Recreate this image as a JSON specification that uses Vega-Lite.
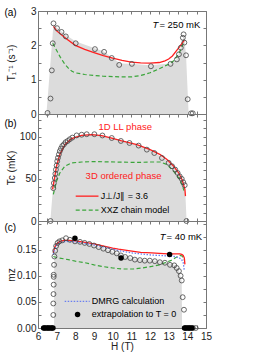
{
"$schema": "https://vega.github.io/schema/vega-lite/v6.json",
"padding": {"left": 3, "top": 5, "right": 5, "bottom": 3},
"spacing": 0,
"bounds": "flush",
"config": {
  "font": "Liberation Sans Narrow, Arial Narrow, Liberation Sans, sans-serif",
  "view": {"stroke": "#777", "strokeWidth": 1},
  "axis": {"grid": false, "domain": false, "tickColor": "#777", "tickSize": -3, "tickWidth": 1,
           "labelFontSize": 10, "labelColor": "#222", "labelFlush": false, "labelOverlap": false, "labelPadding": 3,
           "titleFontSize": 10, "titleFontWeight": "normal", "titleColor": "#222"},
  "axisY": {"labelPadding": 5},
  "text": {"fontSize": 9}
},
"datasets": {
  "one": [{}],
  "ac": [{"x":6.51,"y":0.03},{"x":6.67,"y":0.45},{"x":6.74,"y":1.27},{"x":6.79,"y":2.06},{"x":6.83,"y":2.64},{"x":7.02,"y":2.5},{"x":7.26,"y":2.39},{"x":7.49,"y":2.26},{"x":8.02,"y":2.06},{"x":9.05,"y":1.89},{"x":9.54,"y":1.81},{"x":9.95,"y":1.63},{"x":10.35,"y":1.43},{"x":11.03,"y":1.46},{"x":12.05,"y":1.39},{"x":13.1,"y":1.46},{"x":13.44,"y":1.59},{"x":13.55,"y":1.74},{"x":13.65,"y":1.93},{"x":13.76,"y":2.22},{"x":13.8,"y":2.32},{"x":13.84,"y":2.08},{"x":13.93,"y":1.71},{"x":14.02,"y":0.43},{"x":14.2,"y":0.02},{"x":14.29,"y":0.02}],
  "ag": [{"x":6.45,"y":0},{"x":6.83,"y":2.62},{"x":7.0,"y":2.52},{"x":7.5,"y":2.3},{"x":8.0,"y":2.12},{"x":9.0,"y":1.92},{"x":9.5,"y":1.83},{"x":10.0,"y":1.63},{"x":10.4,"y":1.47},{"x":11.0,"y":1.46},{"x":12.0,"y":1.42},{"x":13.1,"y":1.47},{"x":13.45,"y":1.6},{"x":13.65,"y":1.95},{"x":13.82,"y":2.28},{"x":13.93,"y":1.72},{"x":14.07,"y":0}],
  "ar": [{"x":6.83,"y":2.55},{"x":7.0,"y":2.42},{"x":7.5,"y":2.2},{"x":8.0,"y":2.0},{"x":8.5,"y":1.88},{"x":9.0,"y":1.79},{"x":9.5,"y":1.7},{"x":10.0,"y":1.63},{"x":10.5,"y":1.56},{"x":11.0,"y":1.51},{"x":11.5,"y":1.49},{"x":12.0,"y":1.48},{"x":12.5,"y":1.5},{"x":12.8,"y":1.55},{"x":13.0,"y":1.6},{"x":13.2,"y":1.69},{"x":13.4,"y":1.83},{"x":13.6,"y":1.97},{"x":13.84,"y":2.15}],
  "agr": [{"x":6.79,"y":2.06},{"x":7.0,"y":1.85},{"x":7.2,"y":1.65},{"x":7.4,"y":1.48},{"x":7.6,"y":1.35},{"x":7.8,"y":1.25},{"x":8.0,"y":1.2},{"x":8.5,"y":1.15},{"x":9.0,"y":1.12},{"x":9.5,"y":1.1},{"x":10.0,"y":1.09},{"x":10.5,"y":1.08},{"x":11.0,"y":1.08},{"x":11.5,"y":1.12},{"x":12.0,"y":1.2},{"x":12.5,"y":1.32},{"x":13.0,"y":1.45},{"x":13.3,"y":1.56},{"x":13.6,"y":1.82},{"x":13.84,"y":2.13}],
  "bc": [{"x":6.67,"y":0},{"x":6.82,"y":39},{"x":6.85,"y":45},{"x":6.9,"y":51},{"x":6.93,"y":56},{"x":6.96,"y":61},{"x":7.0,"y":66},{"x":7.03,"y":71},{"x":7.07,"y":75},{"x":7.12,"y":79},{"x":7.17,"y":83},{"x":7.23,"y":86},{"x":7.3,"y":89},{"x":7.39,"y":91},{"x":7.48,"y":93.5},{"x":7.59,"y":95},{"x":7.7,"y":97},{"x":7.84,"y":99},{"x":8.07,"y":101.6},{"x":8.34,"y":102.4},{"x":8.61,"y":103},{"x":9.02,"y":103},{"x":9.45,"y":101.5},{"x":9.95,"y":98.5},{"x":10.44,"y":95},{"x":10.9,"y":92.6},{"x":11.39,"y":89.5},{"x":11.83,"y":84.7},{"x":12.23,"y":80.7},{"x":12.64,"y":74.8},{"x":13.0,"y":69},{"x":13.18,"y":65},{"x":13.35,"y":61},{"x":13.48,"y":57},{"x":13.59,"y":53},{"x":13.7,"y":50},{"x":13.78,"y":46},{"x":13.86,"y":42.5},{"x":13.95,"y":0}],
  "bg": [{"x":6.66,"y":0},{"x":6.8,"y":38},{"x":6.9,"y":51},{"x":7.03,"y":71},{"x":7.23,"y":86},{"x":7.59,"y":95},{"x":8.07,"y":101.6},{"x":8.61,"y":103},{"x":9.02,"y":103},{"x":9.45,"y":101.5},{"x":9.95,"y":98.5},{"x":10.45,"y":95.5},{"x":11.39,"y":90},{"x":12.23,"y":81.5},{"x":12.64,"y":75.5},{"x":13.0,"y":70},{"x":13.27,"y":65},{"x":13.54,"y":57},{"x":13.72,"y":49},{"x":13.87,"y":38},{"x":13.9,"y":30},{"x":13.96,"y":0}],
  "br": [{"x":6.78,"y":37.5},{"x":6.87,"y":49},{"x":6.99,"y":65},{"x":7.17,"y":79},{"x":7.44,"y":90.6},{"x":7.8,"y":97.8},{"x":8.34,"y":101.6},{"x":8.88,"y":102.6},{"x":9.41,"y":101.3},{"x":9.95,"y":98.5},{"x":10.44,"y":95.4},{"x":11.3,"y":90.6},{"x":12.01,"y":84.7},{"x":12.55,"y":78.8},{"x":12.91,"y":73},{"x":13.27,"y":65},{"x":13.54,"y":57},{"x":13.72,"y":49},{"x":13.87,"y":37.5},{"x":13.9,"y":29.5}],
  "bgr": [{"x":6.82,"y":31.5},{"x":6.99,"y":47},{"x":7.17,"y":57},{"x":7.44,"y":65},{"x":7.8,"y":69},{"x":8.34,"y":70},{"x":9.0,"y":70.5},{"x":10.13,"y":70},{"x":11.3,"y":69.5},{"x":12.01,"y":70},{"x":12.55,"y":70},{"x":12.91,"y":67},{"x":13.27,"y":59},{"x":13.54,"y":51},{"x":13.72,"y":43},{"x":13.82,"y":36}],
  "cc": [{"x":6.82,"y":0.025},{"x":6.82,"y":0.047},{"x":6.83,"y":0.065},{"x":6.84,"y":0.083},{"x":6.84,"y":0.098},{"x":6.84,"y":0.102},{"x":6.86,"y":0.121},{"x":6.88,"y":0.137},{"x":6.92,"y":0.148},{"x":6.97,"y":0.157},{"x":7.05,"y":0.163},{"x":7.15,"y":0.166},{"x":7.3,"y":0.168},{"x":7.5,"y":0.172},{"x":7.71,"y":0.169},{"x":7.98,"y":0.166},{"x":8.25,"y":0.165},{"x":8.5,"y":0.163},{"x":8.75,"y":0.161},{"x":9.0,"y":0.158},{"x":9.25,"y":0.155},{"x":9.5,"y":0.152},{"x":9.75,"y":0.149},{"x":9.98,"y":0.146},{"x":10.22,"y":0.143},{"x":10.44,"y":0.139},{"x":10.67,"y":0.136},{"x":10.94,"y":0.134},{"x":11.19,"y":0.131},{"x":11.46,"y":0.13},{"x":11.72,"y":0.129},{"x":11.99,"y":0.129},{"x":12.26,"y":0.128},{"x":12.53,"y":0.126},{"x":12.8,"y":0.125},{"x":13.07,"y":0.121},{"x":13.3,"y":0.12},{"x":13.43,"y":0.115},{"x":13.55,"y":0.109},{"x":13.64,"y":0.1},{"x":13.7,"y":0.091},{"x":13.75,"y":0.059},{"x":13.82,"y":0.035},{"x":6.35,"y":0},{"x":6.55,"y":0},{"x":6.75,"y":0},{"x":13.9,"y":0},{"x":14.1,"y":0},{"x":14.3,"y":0},{"x":14.45,"y":0}],
  "cb": [{"x":7.98,"y":0.172},{"x":10.45,"y":0.134},{"x":13.05,"y":0.141},{"x":6.3,"y":0},{"x":6.4,"y":0},{"x":6.5,"y":0},{"x":6.6,"y":0},{"x":6.7,"y":0},{"x":6.8,"y":0},{"x":13.85,"y":0},{"x":13.95,"y":0},{"x":14.05,"y":0},{"x":14.15,"y":0},{"x":14.25,"y":0}],
  "cg": [{"x":6.86,"y":0},{"x":6.87,"y":0.14},{"x":6.93,"y":0.149},{"x":7.03,"y":0.158},{"x":7.17,"y":0.164},{"x":7.5,"y":0.171},{"x":8.0,"y":0.167},{"x":8.6,"y":0.163},{"x":9.4,"y":0.154},{"x":10.2,"y":0.144},{"x":10.9,"y":0.135},{"x":11.5,"y":0.131},{"x":12.3,"y":0.129},{"x":12.8,"y":0.126},{"x":13.3,"y":0.121},{"x":13.55,"y":0.11},{"x":13.7,"y":0.09},{"x":13.72,"y":0}],
  "cr": [{"x":6.82,"y":0.144},{"x":6.9,"y":0.155},{"x":7.0,"y":0.161},{"x":7.17,"y":0.166},{"x":7.4,"y":0.168},{"x":7.62,"y":0.168},{"x":8.0,"y":0.167},{"x":8.52,"y":0.164},{"x":9.0,"y":0.161},{"x":9.41,"y":0.158},{"x":10.0,"y":0.153},{"x":10.31,"y":0.151},{"x":11.12,"y":0.147},{"x":11.5,"y":0.145},{"x":12.09,"y":0.144},{"x":12.5,"y":0.143},{"x":12.98,"y":0.142},{"x":13.34,"y":0.142},{"x":13.6,"y":0.142},{"x":13.7,"y":0.141},{"x":13.78,"y":0.139},{"x":13.84,"y":0.134},{"x":13.87,"y":0.122}],
  "cd": [{"x":6.82,"y":0.141},{"x":6.9,"y":0.152},{"x":7.0,"y":0.159},{"x":7.2,"y":0.164},{"x":7.5,"y":0.166},{"x":8.0,"y":0.165},{"x":8.5,"y":0.162},{"x":9.0,"y":0.159},{"x":9.5,"y":0.155},{"x":10.0,"y":0.151},{"x":10.5,"y":0.147},{"x":11.0,"y":0.144},{"x":11.5,"y":0.142},{"x":12.0,"y":0.14},{"x":12.5,"y":0.139},{"x":13.0,"y":0.138},{"x":13.3,"y":0.137},{"x":13.55,"y":0.135},{"x":13.7,"y":0.131},{"x":13.78,"y":0.125},{"x":13.83,"y":0.112}],
  "cgr": [{"x":6.82,"y":0.137},{"x":7.0,"y":0.135},{"x":7.62,"y":0.131},{"x":8.0,"y":0.128},{"x":8.52,"y":0.125},{"x":9.0,"y":0.121},{"x":9.41,"y":0.118},{"x":10.0,"y":0.115},{"x":10.5,"y":0.113},{"x":11.12,"y":0.113},{"x":11.6,"y":0.115},{"x":12.09,"y":0.118},{"x":12.5,"y":0.121},{"x":12.8,"y":0.125},{"x":13.1,"y":0.129},{"x":13.34,"y":0.134},{"x":13.61,"y":0.139},{"x":13.72,"y":0.138},{"x":13.8,"y":0.13}]
},
"vconcat": [
{
  "width": 168, "height": 103,
  "resolve": {"axis": {"x": "independent", "y": "independent"}},
  "layer": [
    {"data": {"name": "ag"}, "mark": {"type": "area", "color": "#dcdcdc", "opacity": 1},
     "encoding": {
       "x": {"field": "x", "type": "quantitative", "scale": {"domain": [6, 15], "nice": false, "zero": false},
             "axis": {"orient": "bottom", "values": [6,6.5,7,7.5,8,8.5,9,9.5,10,10.5,11,11.5,12,12.5,13,13.5,14,14.5,15], "labels": false, "title": null}},
       "y": {"field": "y", "type": "quantitative", "scale": {"domain": [0, 3], "nice": false},
             "axis": {"orient": "left", "values": [0,0.5,1,1.5,2,2.5,3], "labelExpr": "datum.value % 1 == 0 ? format(datum.value, 'd') : ''",
                      "title": "T₁⁻¹ (s⁻¹)", "titleX": -27, "titleBaseline": "middle", "titleAngle": 270}}}},
    {"data": {"name": "agr"}, "mark": {"type": "line", "color": "#3aa53a", "strokeWidth": 1.2, "strokeDash": [4, 2.5]},
     "encoding": {"x": {"field": "x", "type": "quantitative", "axis": null}, "y": {"field": "y", "type": "quantitative", "axis": null}}},
    {"data": {"name": "ar"}, "mark": {"type": "line", "color": "#ff2020", "strokeWidth": 1.3},
     "encoding": {
       "x": {"field": "x", "type": "quantitative", "axis": {"orient": "top", "values": [6,6.5,7,7.5,8,8.5,9,9.5,10,10.5,11,11.5,12,12.5,13,13.5,14,14.5,15], "labels": false, "title": null}},
       "y": {"field": "y", "type": "quantitative", "axis": {"orient": "right", "values": [0,0.5,1,1.5,2,2.5,3], "labels": false, "title": null}}}},
    {"data": {"name": "ac"}, "mark": {"type": "point", "shape": "circle", "filled": false, "stroke": "#444", "strokeWidth": 0.8, "size": 24, "opacity": 1},
     "encoding": {"x": {"field": "x", "type": "quantitative", "axis": null}, "y": {"field": "y", "type": "quantitative", "axis": null}}},
    {"data": {"name": "one"}, "mark": {"type": "text", "align": "left", "baseline": "middle", "fontSize": 10, "font": "Liberation Sans"},
     "encoding": {"x": {"datum": 4.2, "type": "quantitative", "axis": null}, "y": {"datum": 2.94, "type": "quantitative", "axis": null}, "text": {"value": "(a)"}}},
    {"data": {"name": "one"}, "mark": {"type": "text", "align": "right", "baseline": "middle", "fontStyle": "italic", "fontSize": 9.5},
     "encoding": {"x": {"datum": 12.45, "type": "quantitative", "axis": null}, "y": {"datum": 2.6, "type": "quantitative", "axis": null}, "text": {"value": "T"}}},
    {"data": {"name": "one"}, "mark": {"type": "text", "align": "left", "baseline": "middle", "fontSize": 9.5, "dx": 1},
     "encoding": {"x": {"datum": 12.45, "type": "quantitative", "axis": null}, "y": {"datum": 2.6, "type": "quantitative", "axis": null}, "text": {"value": "= 250 mK"}}}
  ]
},
{
  "width": 168, "height": 107,
  "resolve": {"axis": {"x": "independent", "y": "independent"}},
  "layer": [
    {"data": {"name": "bg"}, "mark": {"type": "area", "color": "#dcdcdc", "opacity": 1},
     "encoding": {
       "x": {"field": "x", "type": "quantitative", "scale": {"domain": [6, 15], "nice": false, "zero": false},
             "axis": {"orient": "bottom", "values": [6,6.5,7,7.5,8,8.5,9,9.5,10,10.5,11,11.5,12,12.5,13,13.5,14,14.5,15], "labels": false, "title": null}},
       "y": {"field": "y", "type": "quantitative", "scale": {"domain": [0, 127], "nice": false},
             "axis": {"orient": "left", "values": [0,10,20,30,40,50,60,70,80,90,100,110,120], "labelExpr": "datum.value % 50 == 0 ? format(datum.value, 'd') : ''",
                      "title": "Tc (mK)", "titleX": -27, "titleBaseline": "middle", "titleAngle": 270}}}},
    {"data": {"name": "bgr"}, "mark": {"type": "line", "color": "#3aa53a", "strokeWidth": 1.2, "strokeDash": [4, 2.5]},
     "encoding": {"x": {"field": "x", "type": "quantitative", "axis": null}, "y": {"field": "y", "type": "quantitative", "axis": null}}},
    {"data": {"name": "br"}, "mark": {"type": "line", "color": "#ff2020", "strokeWidth": 1.3},
     "encoding": {
       "x": {"field": "x", "type": "quantitative", "axis": {"orient": "top", "values": [6,6.5,7,7.5,8,8.5,9,9.5,10,10.5,11,11.5,12,12.5,13,13.5,14,14.5,15], "labels": false, "title": null}},
       "y": {"field": "y", "type": "quantitative", "axis": {"orient": "right", "values": [0,10,20,30,40,50,60,70,80,90,100,110,120], "labels": false, "title": null}}}},
    {"data": {"name": "bc"}, "mark": {"type": "point", "shape": "circle", "filled": false, "stroke": "#444", "strokeWidth": 0.8, "size": 24, "opacity": 1},
     "encoding": {"x": {"field": "x", "type": "quantitative", "axis": null}, "y": {"field": "y", "type": "quantitative", "axis": null}}},
    {"data": {"name": "one"}, "mark": {"type": "text", "align": "left", "baseline": "middle", "fontSize": 10, "font": "Liberation Sans"},
     "encoding": {"x": {"datum": 4.2, "type": "quantitative", "axis": null}, "y": {"datum": 114.7, "type": "quantitative", "axis": null}, "text": {"value": "(b)"}}},
    {"data": {"name": "one"}, "mark": {"type": "text", "align": "left", "baseline": "middle", "fontSize": 9.5, "color": "#ff2020"},
     "encoding": {"x": {"datum": 9.24, "type": "quantitative", "axis": null}, "y": {"datum": 112, "type": "quantitative", "axis": null}, "text": {"value": "1D LL phase"}}},
    {"data": {"name": "one"}, "mark": {"type": "text", "align": "left", "baseline": "middle", "fontSize": 9.5, "color": "#ff2020"},
     "encoding": {"x": {"datum": 8.55, "type": "quantitative", "axis": null}, "y": {"datum": 53, "type": "quantitative", "axis": null}, "text": {"value": "3D ordered phase"}}},
    {"data": {"name": "one"}, "mark": {"type": "rule", "color": "#ff2020", "strokeWidth": 1.3},
     "encoding": {"x": {"datum": 8.02, "type": "quantitative", "axis": null}, "x2": {"datum": 9.24}, "y": {"datum": 29.5, "type": "quantitative", "axis": null}}},
    {"data": {"name": "one"}, "mark": {"type": "rule", "color": "#3aa53a", "strokeWidth": 1.2, "strokeDash": [4, 2.5]},
     "encoding": {"x": {"datum": 8.02, "type": "quantitative", "axis": null}, "x2": {"datum": 9.24}, "y": {"datum": 13, "type": "quantitative", "axis": null}}},
    {"data": {"name": "one"}, "mark": {"type": "text", "align": "left", "baseline": "middle", "fontSize": 9},
     "encoding": {"x": {"datum": 9.36, "type": "quantitative", "axis": null}, "y": {"datum": 29.5, "type": "quantitative", "axis": null}, "text": {"value": "J⊥/J∥ = 3.6"}}},
    {"data": {"name": "one"}, "mark": {"type": "text", "align": "left", "baseline": "middle", "fontSize": 9},
     "encoding": {"x": {"datum": 9.36, "type": "quantitative", "axis": null}, "y": {"datum": 13, "type": "quantitative", "axis": null}, "text": {"value": "XXZ chain model"}}}
  ]
},
{
  "width": 168, "height": 107,
  "resolve": {"axis": {"x": "independent", "y": "independent"}},
  "layer": [
    {"data": {"name": "cg"}, "mark": {"type": "area", "color": "#dcdcdc", "opacity": 1},
     "encoding": {
       "x": {"field": "x", "type": "quantitative", "scale": {"domain": [6, 15], "nice": false, "zero": false},
             "axis": {"orient": "bottom", "values": [6,6.5,7,7.5,8,8.5,9,9.5,10,10.5,11,11.5,12,12.5,13,13.5,14,14.5,15], "labelExpr": "datum.value % 1 == 0 ? format(datum.value, 'd') : ''",
                      "labelPadding": 6, "title": "H (T)", "titlePadding": 0}},
       "y": {"field": "y", "type": "quantitative", "scale": {"domain": [0, 0.205], "nice": false},
             "axis": {"orient": "left", "values": [0,0.025,0.05,0.075,0.1,0.125,0.15,0.175,0.2],
                      "labelExpr": "(datum.value < 0.19 && abs(datum.value*20 - round(datum.value*20)) < 0.001) ? format(datum.value, '.2f') : ''",
                      "title": "mz", "titleX": -27, "titleBaseline": "middle", "titleAngle": 270}}}},
    {"data": {"name": "cgr"}, "mark": {"type": "line", "color": "#3aa53a", "strokeWidth": 1.2, "strokeDash": [4, 2.5]},
     "encoding": {"x": {"field": "x", "type": "quantitative", "axis": null}, "y": {"field": "y", "type": "quantitative", "axis": null}}},
    {"data": {"name": "cr"}, "mark": {"type": "line", "color": "#ff2020", "strokeWidth": 1.3},
     "encoding": {
       "x": {"field": "x", "type": "quantitative", "axis": {"orient": "top", "values": [6,6.5,7,7.5,8,8.5,9,9.5,10,10.5,11,11.5,12,12.5,13,13.5,14,14.5,15], "labels": false, "title": null}},
       "y": {"field": "y", "type": "quantitative", "axis": {"orient": "right", "values": [0,0.025,0.05,0.075,0.1,0.125,0.15,0.175,0.2], "labels": false, "title": null}}}},
    {"data": {"name": "cd"}, "mark": {"type": "line", "color": "#6a7ff0", "strokeWidth": 1.3, "strokeDash": [1.5, 1.5]},
     "encoding": {"x": {"field": "x", "type": "quantitative", "axis": null}, "y": {"field": "y", "type": "quantitative", "axis": null}}},
    {"data": {"name": "cc"}, "mark": {"type": "point", "shape": "circle", "filled": false, "stroke": "#444", "strokeWidth": 0.8, "size": 24, "opacity": 1},
     "encoding": {"x": {"field": "x", "type": "quantitative", "axis": null}, "y": {"field": "y", "type": "quantitative", "axis": null}}},
    {"data": {"name": "cb"}, "mark": {"type": "circle", "color": "#000", "size": 30, "opacity": 1},
     "encoding": {"x": {"field": "x", "type": "quantitative", "axis": null}, "y": {"field": "y", "type": "quantitative", "axis": null}}},
    {"data": {"name": "one"}, "mark": {"type": "text", "align": "left", "baseline": "middle", "fontSize": 10, "font": "Liberation Sans"},
     "encoding": {"x": {"datum": 4.2, "type": "quantitative", "axis": null}, "y": {"datum": 0.191, "type": "quantitative", "axis": null}, "text": {"value": "(c)"}}},
    {"data": {"name": "one"}, "mark": {"type": "text", "align": "right", "baseline": "middle", "fontStyle": "italic", "fontSize": 9.5},
     "encoding": {"x": {"datum": 12.83, "type": "quantitative", "axis": null}, "y": {"datum": 0.174, "type": "quantitative", "axis": null}, "text": {"value": "T"}}},
    {"data": {"name": "one"}, "mark": {"type": "text", "align": "left", "baseline": "middle", "fontSize": 9.5, "dx": 1},
     "encoding": {"x": {"datum": 12.83, "type": "quantitative", "axis": null}, "y": {"datum": 0.174, "type": "quantitative", "axis": null}, "text": {"value": "= 40 mK"}}},
    {"data": {"name": "one"}, "mark": {"type": "rule", "color": "#6a7ff0", "strokeWidth": 1.3, "strokeDash": [1.5, 1.5]},
     "encoding": {"x": {"datum": 7.43, "type": "quantitative", "axis": null}, "x2": {"datum": 8.77}, "y": {"datum": 0.051, "type": "quantitative", "axis": null}}},
    {"data": {"name": "one"}, "mark": {"type": "circle", "color": "#000", "size": 30, "opacity": 1},
     "encoding": {"x": {"datum": 8.12, "type": "quantitative", "axis": null}, "y": {"datum": 0.026, "type": "quantitative", "axis": null}}},
    {"data": {"name": "one"}, "mark": {"type": "text", "align": "left", "baseline": "middle", "fontSize": 9},
     "encoding": {"x": {"datum": 8.88, "type": "quantitative", "axis": null}, "y": {"datum": 0.051, "type": "quantitative", "axis": null}, "text": {"value": "DMRG calculation"}}},
    {"data": {"name": "one"}, "mark": {"type": "text", "align": "left", "baseline": "middle", "fontSize": 9},
     "encoding": {"x": {"datum": 8.88, "type": "quantitative", "axis": null}, "y": {"datum": 0.026, "type": "quantitative", "axis": null}, "text": {"value": "extrapolation to T = 0"}}}
  ]
}
]
}
